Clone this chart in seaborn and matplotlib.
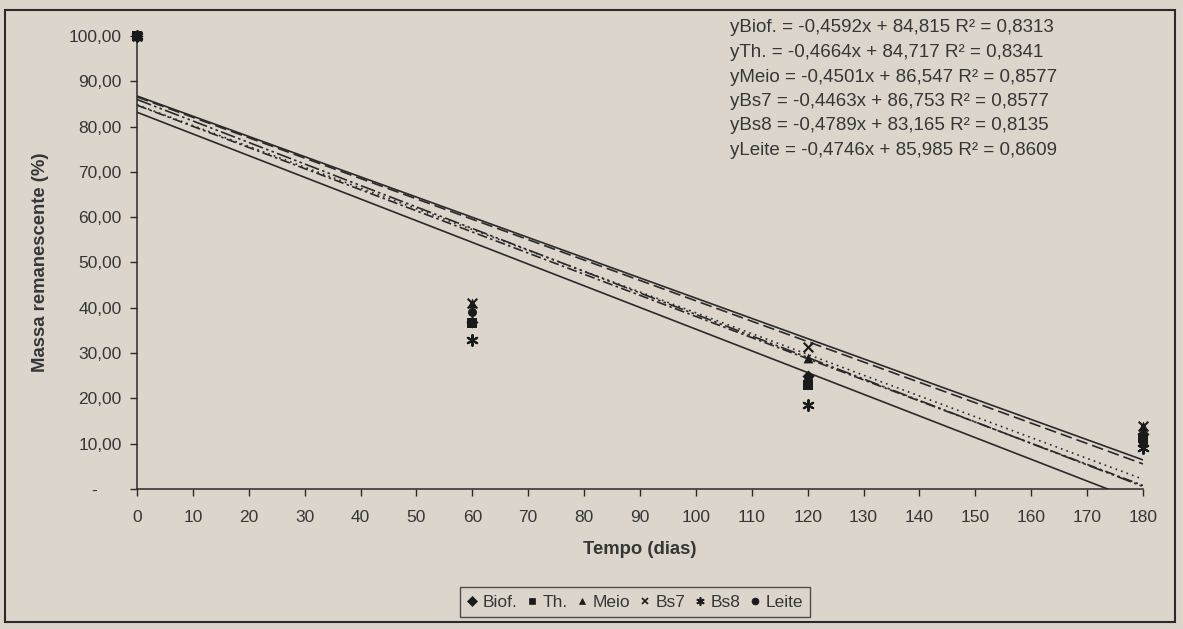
import numpy as np
import pandas as pd
import seaborn as sns
import matplotlib.pyplot as plt
from matplotlib.lines import Line2D
from matplotlib.patches import Rectangle

# Remaining mass (%) of each treatment over time
dias = [0, 60, 120, 180]
series = ["Biof.", "Th.", "Meio", "Bs7", "Bs8", "Leite"]
biof = [100.0, 36.8, 25.0, 12.1]
th = [100.0, 36.7, 23.0, 11.3]
meio = [100.0, 41.1, 29.0, 14.0]
bs7 = [100.0, 41.0, 31.4, 13.9]
bs8 = [100.0, 32.8, 18.5, 9.0]
leite = [100.0, 39.0, 24.0, 10.1]

# Linear trend lines: y = slope * x + intercept
eq_names = ["yBiof.", "yTh.", "yMeio", "yBs7", "yBs8", "yLeite"]
slopes = [-0.4592, -0.4664, -0.4501, -0.4463, -0.4789, -0.4746]
intercepts = [84.815, 84.717, 86.547, 86.753, 83.165, 85.985]
r2 = [0.8313, 0.8341, 0.8577, 0.8577, 0.8135, 0.8609]

yticks = [0, 10, 20, 30, 40, 50, 60, 70, 80, 90, 100]
xticks = list(range(0, 181, 10))

values = [biof, th, meio, bs7, bs8, leite]
df = pd.DataFrame({
    "Tempo": np.tile(dias, len(series)),
    "Massa": np.concatenate(values),
    "Serie": np.repeat(series, len(dias)),
})

BG = "#dbd5cc"
INK = "#2a2a2a"
TXT = "#363636"

sns.set_theme(style="white")
plt.rcParams["font.family"] = ["Liberation Sans", "DejaVu Sans"]

fig = plt.figure(figsize=(11.83, 6.29), dpi=100, facecolor=BG)
ax = fig.add_axes([0.1158, 0.2226, 0.9662 - 0.1158, 0.9428 - 0.2226])
ax.set_facecolor(BG)

markers = {"Biof.": "D", "Th.": "s", "Meio": "^", "Bs7": "x",
           "Bs8": (6, 2, 0), "Leite": "o"}
msizes = {"Biof.": 38, "Th.": 42, "Meio": 50, "Bs7": 48, "Bs8": 60, "Leite": 42}
zorders = {"Biof.": 5, "Th.": 8, "Meio": 5, "Bs7": 6, "Bs8": 6, "Leite": 5}
line_styles = {
    "Biof.": (0, (1, 2.5)),
    "Th.": (0, (6, 2, 1.5, 2)),
    "Meio": (0, (7, 3)),
    "Bs7": "-",
    "Bs8": "-",
    "Leite": (0, (9, 2, 1.5, 2, 1.5, 2)),
}

# Trend lines from the fitted equations
xline = np.array([0, 180])
line_rows = []
for name, m, b in zip(series, slopes, intercepts):
    for xv in xline:
        line_rows.append({"Tempo": xv, "Massa": m * xv + b, "Serie": name})
lines_df = pd.DataFrame(line_rows)
for name in series:
    sub = lines_df[lines_df["Serie"] == name]
    sns.lineplot(data=sub, x="Tempo", y="Massa", ax=ax, color=INK,
                 linewidth=1.2, linestyle=line_styles[name], legend=False,
                 zorder=3)

# Observed points (the 0-day value is the same for all series, Th. drawn on top)
for name in series:
    sub = df[df["Serie"] == name]
    lw = 1.5 if name in ("Bs7", "Bs8") else 0
    sns.scatterplot(data=sub, x="Tempo", y="Massa", ax=ax, marker=markers[name],
                    s=msizes[name], color="#1a1a1a", edgecolor="#1a1a1a",
                    linewidth=lw, legend=False, zorder=zorders[name])
for coll in ax.collections:
    coll.set_clip_on(False)

ax.set_xlim(0, 180)
ax.set_ylim(0, 100)
ax.set_xticks(xticks)
ax.set_yticks(yticks)
ax.set_yticklabels(["-     " if v == 0 else f"{v:.2f}".replace(".", ",") for v in yticks])
ax.tick_params(axis="both", which="both", direction="out", length=5, width=1,
               color=INK, labelcolor=TXT, labelsize=12.5, pad=6, left=True, bottom=True)
ax.tick_params(axis="x", pad=10)
for side in ("top", "right"):
    ax.spines[side].set_visible(False)
for side in ("left", "bottom"):
    ax.spines[side].set_color(INK)
    ax.spines[side].set_linewidth(1.1)

ax.set_xlabel("Tempo (dias)", fontsize=13.3, fontweight="bold", color=TXT, labelpad=12)
ax.set_ylabel("Massa remanescente (%)", fontsize=13.3, fontweight="bold", color=TXT, labelpad=14)

# Trend-line equations, stacked at top right
for i, (nm, m, b, r) in enumerate(zip(eq_names, slopes, intercepts, r2)):
    nums = (f" = {m:.4f}x + {b:.3f} R² = {r:.4f}").replace(".", ",")
    fig.text(730 / 1183, 1 - (28 + i * 24.5) / 629, nm + nums, fontsize=13.5,
             color=TXT, va="center", ha="left")

# Legend with marker-only entries
handles = []
for name in series:
    mk = markers[name]
    filled = name not in ("Bs7", "Bs8")
    handles.append(Line2D([], [], linestyle="none", marker=mk,
                          markersize=5 if name != "Bs8" else 6,
                          markerfacecolor="#1a1a1a" if filled else "none",
                          markeredgecolor="#1a1a1a", markeredgewidth=1.2 if not filled else 0.5))
leg = fig.legend(handles, series, loc="center", bbox_to_anchor=(635 / 1183, 1 - 602 / 629),
                 ncol=6, frameon=True, fontsize=12.5, handlelength=0.6, handletextpad=0.3,
                 columnspacing=0.55, borderpad=0.4, borderaxespad=0, fancybox=False,
                 labelcolor=TXT)
leg.get_frame().set_edgecolor(INK)
leg.get_frame().set_facecolor(BG)
leg.get_frame().set_linewidth(1.0)

# Outer chart frame
fig.patches.append(Rectangle((5 / 1183, 1 - 622 / 629), 1170 / 1183, 612 / 629,
                             transform=fig.transFigure, fill=False,
                             edgecolor=INK, linewidth=1.5))

fig.savefig("out.png", dpi=100, facecolor=BG)
